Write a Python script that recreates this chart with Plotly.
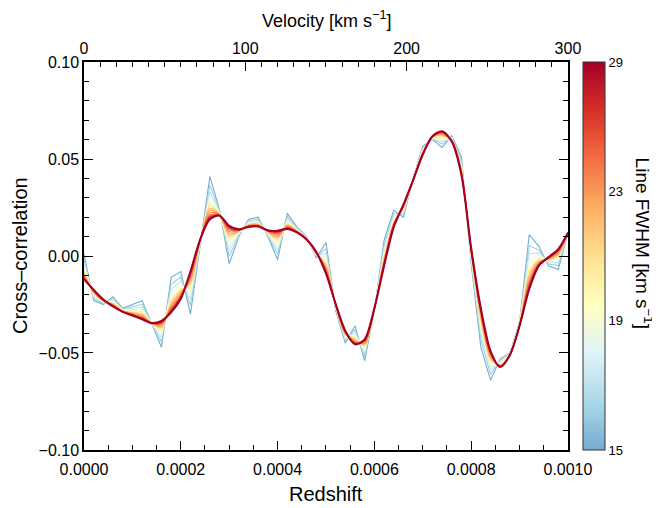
import numpy as np
import plotly.graph_objects as go
from plotly.colors import sample_colorscale

# ---------------- data ----------------
redshift = [0.00000, 0.00002, 0.00004, 0.00006, 0.00008, 0.00010, 0.00012, 0.00014, 0.00016, 0.00018,
            0.00020, 0.00022, 0.00024, 0.00026, 0.00028, 0.00030, 0.00032, 0.00034, 0.00036, 0.00038,
            0.00040, 0.00042, 0.00044, 0.00046, 0.00048, 0.00050, 0.00052, 0.00054, 0.00056, 0.00058,
            0.00060, 0.00062, 0.00064, 0.00066, 0.00068, 0.00070, 0.00072, 0.00074, 0.00076, 0.00078,
            0.00080, 0.00082, 0.00084, 0.00086, 0.00088, 0.00090, 0.00092, 0.00094, 0.00096, 0.00098,
            0.00100]

fwhm_kms = [15, 16, 17, 18, 19, 20, 21, 22, 23, 24, 25, 26, 27, 28, 29]

cc_fwhm15 = [0.001, -0.023, -0.025, -0.021, -0.027, -0.025, -0.023, -0.035, -0.047, -0.011, -0.008, -0.030, 0.006, 0.041, 0.024, -0.004, 0.010, 0.019, 0.020, 0.010, -0.002, 0.022, 0.015, 0.010, -0.001, 0.007, -0.028, -0.045, -0.036, -0.054, -0.028, 0.008, 0.0237, 0.020, 0.040, 0.0567, 0.060, 0.056, 0.062, 0.051, -0.004, -0.047, -0.064, -0.053, -0.050, -0.034, 0.011, 0.005, -0.005, -0.007, 0.012]
cc_fwhm16 = [-0.0016, -0.0219, -0.0245, -0.022, -0.0274, -0.0261, -0.0249, -0.0349, -0.0443, -0.0146, -0.0108, -0.0256, 0.0065, 0.0366, 0.0234, -0.0001, 0.0107, 0.0182, 0.019, 0.0106, 0.001, 0.0204, 0.0144, 0.0097, -0.0004, 0.0038, -0.0273, -0.0437, -0.0379, -0.0518, -0.0278, 0.0054, 0.022, 0.0213, 0.0398, 0.0558, 0.0603, 0.0577, 0.0614, 0.0491, -0.0024, -0.043, -0.061, -0.0538, -0.0502, -0.0344, 0.0054, 0.003, -0.0041, -0.0049, 0.012]
cc_fwhm17 = [-0.0036, -0.0211, -0.0241, -0.0228, -0.0276, -0.027, -0.0264, -0.0349, -0.0423, -0.0173, -0.0129, -0.0223, 0.0069, 0.0333, 0.0229, 0.0028, 0.0113, 0.0176, 0.0183, 0.0111, 0.0033, 0.0192, 0.014, 0.0095, 0.0001, 0.0014, -0.0268, -0.0428, -0.0393, -0.0502, -0.0277, 0.0035, 0.0207, 0.0223, 0.0397, 0.0552, 0.0606, 0.0589, 0.061, 0.0477, -0.0012, -0.040, -0.0588, -0.0545, -0.0504, -0.0347, 0.0012, 0.0015, -0.0035, -0.0033, 0.012]
cc_fwhm18 = [-0.0049, -0.0205, -0.0239, -0.0233, -0.0278, -0.0276, -0.0273, -0.0348, -0.0409, -0.0191, -0.0143, -0.0201, 0.0071, 0.0311, 0.0226, 0.0048, 0.0117, 0.0172, 0.0178, 0.0114, 0.0048, 0.0184, 0.0137, 0.0093, 0.0004, -0.0002, -0.0265, -0.0422, -0.0403, -0.0491, -0.0276, 0.0022, 0.0198, 0.0229, 0.0396, 0.0547, 0.0608, 0.0597, 0.0607, 0.0468, -0.0004, -0.038, -0.0573, -0.0549, -0.0505, -0.0349, -0.0016, 0.0005, -0.003, -0.0023, 0.012]
cc_fwhm19 = [-0.0062, -0.020, -0.0236, -0.0238, -0.028, -0.0281, -0.0283, -0.0348, -0.0396, -0.0209, -0.0157, -0.0179, 0.0074, 0.0289, 0.0222, 0.0067, 0.012, 0.0168, 0.0174, 0.0118, 0.0063, 0.0176, 0.0135, 0.0092, 0.0007, -0.0018, -0.0262, -0.0415, -0.0412, -0.048, -0.0275, 0.0009, 0.0189, 0.0236, 0.0395, 0.0543, 0.0609, 0.0606, 0.0604, 0.0459, 0.0004, -0.036, -0.0558, -0.0553, -0.0506, -0.0351, -0.0044, -0.0005, -0.0026, -0.0012, 0.012]
cc_fwhm20 = [-0.0071, -0.0196, -0.0235, -0.0241, -0.0281, -0.0285, -0.029, -0.0348, -0.0386, -0.0222, -0.0167, -0.0164, 0.0076, 0.0274, 0.022, 0.0081, 0.0123, 0.0165, 0.017, 0.012, 0.0073, 0.017, 0.0133, 0.0091, 0.0009, -0.0029, -0.026, -0.0411, -0.0419, -0.0472, -0.0274, -0.0001, 0.0183, 0.024, 0.0394, 0.054, 0.0611, 0.0612, 0.0601, 0.0452, 0.001, -0.0346, -0.0547, -0.0556, -0.0506, -0.0352, -0.0064, -0.0012, -0.0023, -0.0005, 0.012]
cc_fwhm21 = [-0.0081, -0.0192, -0.0233, -0.0245, -0.0283, -0.029, -0.0297, -0.0347, -0.0376, -0.0236, -0.0178, -0.0146, 0.0078, 0.0256, 0.0218, 0.0097, 0.0126, 0.0162, 0.0166, 0.0122, 0.0085, 0.0164, 0.013, 0.009, 0.0011, -0.0042, -0.0257, -0.0406, -0.0427, -0.0463, -0.0273, -0.0011, 0.0176, 0.0246, 0.0393, 0.0536, 0.0612, 0.0618, 0.0599, 0.0445, 0.0016, -0.033, -0.0535, -0.0559, -0.0507, -0.0354, -0.0086, -0.002, -0.0019, 0.0004, 0.012]
cc_fwhm22 = [-0.0088, -0.0189, -0.0231, -0.0248, -0.0284, -0.0293, -0.0302, -0.0347, -0.0369, -0.0245, -0.0185, -0.0135, 0.0079, 0.0245, 0.0216, 0.0106, 0.0128, 0.016, 0.0164, 0.0124, 0.0093, 0.016, 0.0129, 0.0089, 0.0013, -0.005, -0.0255, -0.0403, -0.0431, -0.0458, -0.0273, -0.0018, 0.0172, 0.0249, 0.0393, 0.0534, 0.0613, 0.0622, 0.0598, 0.044, 0.002, -0.032, -0.0528, -0.0562, -0.0508, -0.0355, -0.010, -0.0025, -0.0017, 0.0009, 0.012]
cc_fwhm23 = [-0.0094, -0.0186, -0.023, -0.025, -0.0284, -0.0296, -0.0307, -0.0347, -0.0362, -0.0254, -0.0192, -0.0124, 0.008, 0.0234, 0.0214, 0.0116, 0.013, 0.0158, 0.0162, 0.0126, 0.010, 0.0156, 0.0128, 0.0088, 0.0014, -0.0058, -0.0254, -0.040, -0.0436, -0.0452, -0.0272, -0.0024, 0.0167, 0.0252, 0.0392, 0.0532, 0.0614, 0.0626, 0.0596, 0.0436, 0.0024, -0.031, -0.052, -0.0564, -0.0508, -0.0356, -0.0114, -0.003, -0.0015, 0.0014, 0.012]
cc_fwhm24 = [-0.0101, -0.0183, -0.0229, -0.0253, -0.0285, -0.0298, -0.0312, -0.0347, -0.0355, -0.0263, -0.0199, -0.0113, 0.0081, 0.0223, 0.0213, 0.0126, 0.0131, 0.0156, 0.0159, 0.0127, 0.0108, 0.0152, 0.0126, 0.0087, 0.0016, -0.0066, -0.0252, -0.0397, -0.0441, -0.0447, -0.0272, -0.0031, 0.0163, 0.0255, 0.0392, 0.053, 0.0614, 0.0631, 0.0595, 0.0431, 0.0028, -0.030, -0.0513, -0.0566, -0.0508, -0.0357, -0.0128, -0.0035, -0.0013, 0.0019, 0.012]
cc_fwhm25 = [-0.0107, -0.0181, -0.0228, -0.0255, -0.0286, -0.0301, -0.0316, -0.0346, -0.0349, -0.0272, -0.0206, -0.0102, 0.0083, 0.0212, 0.0211, 0.0136, 0.0133, 0.0154, 0.0157, 0.0129, 0.0115, 0.0148, 0.0125, 0.0087, 0.0017, -0.0074, -0.025, -0.0393, -0.0446, -0.0441, -0.0271, -0.0037, 0.0159, 0.0259, 0.0391, 0.0527, 0.0615, 0.0635, 0.0593, 0.0426, 0.0032, -0.029, -0.0505, -0.0568, -0.0509, -0.0358, -0.0142, -0.004, -0.001, 0.0025, 0.012]
cc_fwhm26 = [-0.0111, -0.0179, -0.0227, -0.0257, -0.0287, -0.0303, -0.0319, -0.0346, -0.0345, -0.0277, -0.021, -0.0095, 0.0083, 0.0205, 0.021, 0.0141, 0.0134, 0.0153, 0.0155, 0.013, 0.012, 0.0146, 0.0124, 0.0086, 0.0018, -0.0079, -0.0249, -0.0391, -0.0448, -0.0438, -0.0271, -0.0041, 0.0156, 0.026, 0.0391, 0.0526, 0.0616, 0.0637, 0.0592, 0.0424, 0.0034, -0.0284, -0.0501, -0.0569, -0.0509, -0.0359, -0.015, -0.0043, -0.0009, 0.0028, 0.012]
cc_fwhm27 = [-0.0115, -0.0177, -0.0226, -0.0258, -0.0287, -0.0305, -0.0322, -0.0346, -0.034, -0.0283, -0.0214, -0.0089, 0.0084, 0.0199, 0.0209, 0.0147, 0.0136, 0.0152, 0.0154, 0.0131, 0.0124, 0.0143, 0.0123, 0.0086, 0.0019, -0.0084, -0.0248, -0.039, -0.0451, -0.0434, -0.027, -0.0045, 0.0153, 0.0262, 0.039, 0.0525, 0.0616, 0.064, 0.0591, 0.0421, 0.0037, -0.0278, -0.0496, -0.057, -0.051, -0.0359, -0.0159, -0.0046, -0.0008, 0.0031, 0.012]
cc_fwhm28 = [-0.0117, -0.0176, -0.0225, -0.0259, -0.0288, -0.0306, -0.0324, -0.0346, -0.0338, -0.0286, -0.0217, -0.0084, 0.0085, 0.0194, 0.0208, 0.0151, 0.0136, 0.0151, 0.0153, 0.0131, 0.0127, 0.0142, 0.0122, 0.0085, 0.002, -0.0087, -0.0248, -0.0388, -0.0453, -0.0432, -0.027, -0.0047, 0.0152, 0.0264, 0.039, 0.0524, 0.0617, 0.0641, 0.059, 0.0419, 0.0038, -0.0274, -0.0493, -0.0571, -0.051, -0.036, -0.0164, -0.0048, -0.0007, 0.0033, 0.012]
cc_fwhm29 = [-0.012, -0.0175, -0.0225, -0.026, -0.0288, -0.0307, -0.0326, -0.0346, -0.0335, -0.029, -0.022, -0.008, 0.0085, 0.019, 0.0208, 0.0155, 0.0137, 0.015, 0.0152, 0.0132, 0.013, 0.014, 0.0122, 0.0085, 0.002, -0.009, -0.0247, -0.0387, -0.0455, -0.043, -0.027, -0.005, 0.015, 0.0265, 0.039, 0.0523, 0.0617, 0.0643, 0.059, 0.0417, 0.004, -0.027, -0.049, -0.0572, -0.051, -0.036, -0.017, -0.005, -0.0006, 0.0035, 0.012]

series = [cc_fwhm15, cc_fwhm16, cc_fwhm17, cc_fwhm18, cc_fwhm19, cc_fwhm20, cc_fwhm21, cc_fwhm22,
          cc_fwhm23, cc_fwhm24, cc_fwhm25, cc_fwhm26, cc_fwhm27, cc_fwhm28, cc_fwhm29]

cbar_labels = ["15", "19", "23", "29"]

# ---------------- style ----------------
FONT = "Liberation Sans, Arial, Helvetica, sans-serif"
cscale = [
    [0.000, "rgb(116,173,209)"],
    [0.125, "rgb(171,217,233)"],
    [0.250, "rgb(224,243,248)"],
    [0.375, "rgb(255,255,191)"],
    [0.500, "rgb(254,224,144)"],
    [0.625, "rgb(253,174,97)"],
    [0.750, "rgb(244,109,67)"],
    [0.875, "rgb(215,48,39)"],
    [1.000, "rgb(165,0,38)"],
]
lo, hi = np.log(fwhm_kms[0]), np.log(fwhm_kms[-1])

fig = go.Figure()
for f, ys in zip(fwhm_kms, series):
    p = (np.log(f) - lo) / (hi - lo)
    col = sample_colorscale(cscale, [p])[0]
    last = f == fwhm_kms[-1]
    fig.add_trace(go.Scatter(
        x=redshift, y=ys, mode="lines",
        line=dict(color=col, width=2.1 if last else 1.1,
                  shape="spline" if f >= 21 else "linear", smoothing=0.8),
        hoverinfo="skip", showlegend=False))

# colour bar (log-scaled FWHM)
fig.add_trace(go.Scatter(
    x=[None], y=[None], xaxis="x2", mode="markers", hoverinfo="skip", showlegend=False,
    marker=dict(color=[lo], cmin=lo, cmax=hi, colorscale=cscale, showscale=True,
                colorbar=dict(x=1.0304, xanchor="left", y=0.5, yanchor="middle",
                              len=1, lenmode="fraction", thickness=22, thicknessmode="pixels",
                              xpad=0, ypad=0, outlinewidth=1, outlinecolor="#333",
                              ticks="", tickvals=list(np.linspace(lo, hi, len(cbar_labels))),
                              ticktext=cbar_labels,
                              tickfont=dict(size=13, color="black", family=FONT)))))

axis_common = dict(ticks="inside", ticklen=9, tickwidth=1.3, tickcolor="black",
                   showline=True, linewidth=1.5, linecolor="black",
                   showgrid=False, zeroline=False, tickfont=dict(size=16, color="black", family=FONT))

# the page body adds an 8 px offset, so the figure is 8 px smaller on each side
fig.update_layout(
    width=652, height=500,
    margin=dict(l=76, r=92, t=54, b=58),
    plot_bgcolor="white", paper_bgcolor="white",
    font=dict(family=FONT, size=16, color="black"),
    showlegend=False,
    xaxis=dict(range=[0, 0.0010001], tickmode="linear", tick0=0, dtick=0.0002, tickformat=".4f",
               ticklabelstandoff=4,
               minor=dict(dtick=0.00005, ticks="inside", ticklen=5, tickwidth=1.3, tickcolor="black"),
               **axis_common),
    xaxis2=dict(overlaying="x", side="top", anchor="y", range=[0, 300.03],
                tickmode="linear", tick0=0, dtick=100,
                minor=dict(dtick=10, ticks="inside", ticklen=5, tickwidth=1.3, tickcolor="black"),
                **axis_common),
    yaxis=dict(range=[-0.10001, 0.10001], tickmode="linear", tick0=0, dtick=0.05, tickformat=".2f",
               mirror="ticks",
               minor=dict(dtick=0.01, ticks="inside", ticklen=5, tickwidth=1.3, tickcolor="black"),
               **axis_common),
    annotations=[
        dict(text="Velocity [km s<sup>−1</sup>]", xref="paper", yref="paper", x=0.5, y=1.1108,
             xanchor="center", yanchor="middle", showarrow=False, font=dict(size=18)),
        dict(text="Redshift", xref="paper", yref="paper", x=0.5, y=-0.1134,
             xanchor="center", yanchor="middle", showarrow=False, font=dict(size=20)),
        dict(text="Cross–correlation", xref="paper", yref="paper", x=-0.1322, y=0.5,
             xanchor="center", yanchor="middle", textangle=-90, showarrow=False, font=dict(size=20)),
        dict(text="Line FWHM [km s<sup>−1</sup>]", xref="paper", yref="paper", x=1.157, y=0.532,
             xanchor="center", yanchor="middle", textangle=90, showarrow=False, font=dict(size=19)),
    ],
)

fig.write_html("out.html")
